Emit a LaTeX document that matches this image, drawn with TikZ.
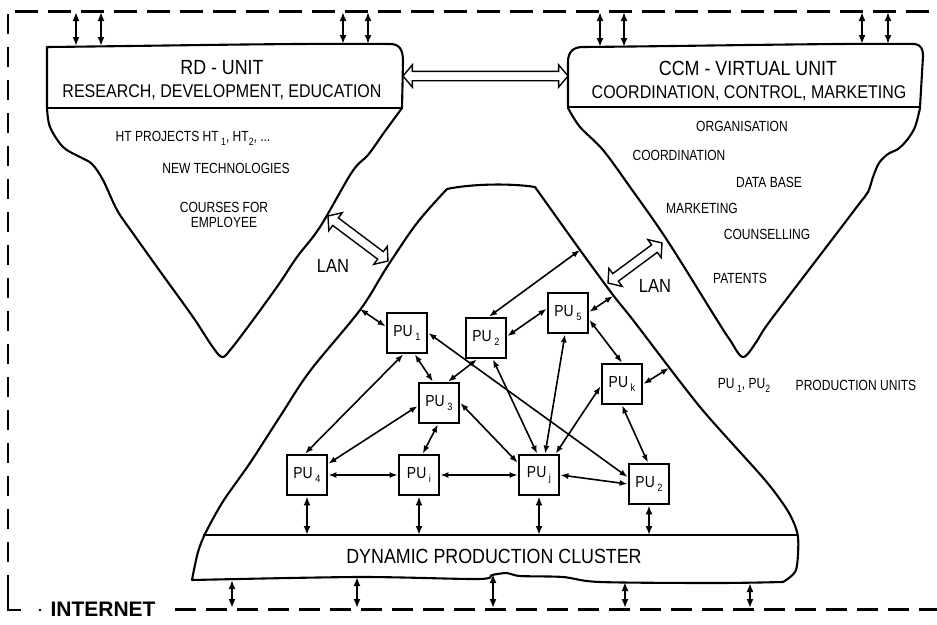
\documentclass[tikz,border=0pt]{standalone}
\usepackage{fontspec}
\setmainfont{Liberation Sans}
\newfontfamily\hfont{Liberation Sans}[FakeStretch=0.87]
\newfontfamily\sfont{Liberation Sans}[FakeStretch=0.82]
\usetikzlibrary{arrows.meta,shapes.arrows,calc}

% lowered small index, as in PU 1 or HT 2
\newcommand\lowsub[1]{\raisebox{-4pt}{\fontsize{10.5}{10.5}\selectfont #1}}

\tikzset{
  frametop/.style={line width=3pt, dash pattern=on 23pt off 10pt},
  frameleft/.style={line width=2.8pt, dash pattern=on 20pt off 13pt},
  framebottom/.style={line width=3pt, dash pattern=on 21pt off 10pt},
  outline/.style={line width=2.1pt, line join=round, line cap=round},
  thinsep/.style={line width=1.3pt},
  pubox/.style={draw, line width=2.8pt, minimum size=40pt, inner sep=0pt,
    font=\hfont\fontsize{16}{16}\selectfont},
  link/.style={line width=1.6pt, {Latex[length=8pt,width=6pt]}-{Latex[length=8pt,width=6pt]}},
  vlink/.style={line width=2pt, {Latex[length=9pt,width=7pt]}-{Latex[length=9pt,width=7pt]}},
  title/.style={font=\hfont\fontsize{20.5}{22}\selectfont, inner sep=0pt},
  subtitle/.style={font=\hfont\fontsize{18.4}{20}\selectfont, inner sep=0pt},
  item/.style={font=\sfont\fontsize{14.7}{16}\selectfont, inner sep=0pt, align=center},
  lan/.style={font=\hfont\fontsize{19}{20}\selectfont, inner sep=0pt},
  hollow/.style={draw, fill=white, line width=1.4pt, double arrow,
    double arrow head extend=6.5pt, double arrow tip angle=100,
    inner xsep=0pt, inner ysep=4pt, text height=0pt, text depth=0pt, minimum width=1pt}
}

% outlined two-headed block arrow between two named points
\newcommand\hollowarrow[2]{%
  \path let \p1=($(#2)-(#1)$), \n1={atan2(\y1,\x1)}, \n2={veclen(\x1,\y1)} in
    node[hollow, rotate=\n1, minimum height={\n2*1pt}] at ($(#1)!0.5!(#2)$) {};
}

\begin{document}
\begin{tikzpicture}[x=1pt,y=-1pt]
\useasboundingbox (0,0) rectangle (937,624);

% ---------- INTERNET frame ----------
\draw[frametop] (15,11) -- (937,11);
\draw[frameleft] (8,14) -- (8,590);
\draw[line width=2.8pt] (8,588) -- (8,610) -- (21,610);
\fill (40,610) circle (1.4pt);
\node[font=\bfseries\fontsize{21}{22}\selectfont, inner sep=0pt] (internet) at (103,609) {INTERNET};
\draw[framebottom] (175,609) -- (937,609);

% ---------- RD unit ----------
\draw[outline] (47,108) -- (47,47) .. controls (150,46) and (300,43) .. (390,44)
  .. controls (400,44) and (403,50) .. (403,62) -- (402,108);
\draw[thinsep] (47,108) -- (402,108);
\draw[outline] plot[smooth, tension=0.55] coordinates {(47,108) (50,127) (63,147) (80,157) (92,164)
  (103,180) (117,210) (132,232) (162,274) (193,317) (212,346) (222,357) (231,349) (253,320)
  (279,284) (297,257) (320,227) (352,172) (368,155) (383,134) (391,123) (402,108)};
\node[title] (rdtitle) at (222,68) {RD - UNIT};
\node[subtitle] (rdsub) at (222,92) {RESEARCH, DEVELOPMENT, EDUCATION};
\node[item] (ht) at (193,138) {HT PROJECTS HT\,\lowsub{1}, HT\lowsub{2}, ...};
\node[item] (newtech) at (226,168) {NEW TECHNOLOGIES};
\node[item] (courses) at (224,215) {COURSES FOR\\[-1pt]EMPLOYEE};
\node[lan] (lanrd) at (333,266) {LAN};

% ---------- CCM unit ----------
\draw[outline] (568,107) -- (568,62) .. controls (568,52) and (573,47) .. (583,47)
  .. controls (700,46) and (850,43) .. (915,44) .. controls (921,45) and (923,49) .. (923,56) -- (920,107);
\draw[thinsep] (568,107) -- (921,107);
\draw[outline] plot[smooth, tension=0.55] coordinates {(568,108) (580,127) (603,150) (630,187)
  (667,240) (717,320) (730,340) (743,357) (757,341) (770,321) (837,233) (859,204) (868,192)
  (873,177) (879,163) (888,154) (898,149) (907,140) (915,127) (920,108)};
\node[title] (ccmtitle) at (748,68) {CCM - VIRTUAL UNIT};
\node[subtitle] (ccmsub) at (749,93) {COORDINATION, CONTROL, MARKETING};
\node[item] (org) at (742,126) {ORGANISATION};
\node[item] (coord) at (679,155) {COORDINATION};
\node[item] (db) at (769,182) {DATA BASE};
\node[item] (mark) at (702,208) {MARKETING};
\node[item] (couns) at (767,234) {COUNSELLING};
\node[item] (pat) at (740,278) {PATENTS};
\node[lan] (lanccm) at (655,286) {LAN};

% ---------- block arrows ----------
\coordinate (rdright) at (403,76);
\coordinate (ccmleft) at (568,76);
\hollowarrow{rdright}{ccmleft}
\coordinate (lan1a) at (328,216);
\coordinate (lan1b) at (388,261);
\hollowarrow{lan1a}{lan1b}
\coordinate (lan2a) at (662,243);
\coordinate (lan2b) at (608,283);
\hollowarrow{lan2a}{lan2b}

% ---------- links to the INTERNET (top) ----------
\foreach \x/\yb [count=\i] in {76/46,101/46,343/44,368/44,600/47,624/47,862/44,888/44}{
  \coordinate (t\i) at (\x,12);
  \coordinate (u\i) at (\x,\yb);
  \draw[vlink] (t\i) -- (u\i);
}

% ---------- dynamic production cluster ----------
\draw[outline] plot[smooth, tension=0.55] coordinates {(192,580) (198,552) (206,532) (222,503)
  (238,480) (252,460) (281,415) (310,371) (360,310) (387,267) (417,223) (447,189)}
  .. controls (470,184) and (510,183) .. (535,187)
  plot[smooth, tension=0.45] coordinates {(535,187) (580,250) (613,295) (633,320) (700,407)
  (765,480) (789,513) (798,537) (796,570) (783,582)}
  plot[smooth, tension=0.5] coordinates {(783,582) (717,583) (600,582) (563,577) (520,576)
  (507,573) (492,575) (478,579) (359,577) (192,580)};
\coordinate (sep) at (0,535);
\draw[thinsep] (203,535) -- (798,535);
\node[title] (dpc) at (494,556) {DYNAMIC PRODUCTION CLUSTER};

% ---------- production units ----------
\node[pubox] (pu1) at (407,333) {PU\,\lowsub{1}};
\node[pubox] (puA) at (486,338) {PU\,\lowsub{2}};
\node[pubox] (pu5) at (568,313) {PU\,\lowsub{5}};
\node[pubox] (puk) at (622,384) {PU\,\lowsub{k}};
\node[pubox] (pu3) at (439,403) {PU\,\lowsub{3}};
\node[pubox] (pu4) at (307,475) {PU\,\lowsub{4}};
\node[pubox] (pui) at (419,475) {PU\,\lowsub{i}};
\node[pubox] (puj) at (539,475) {PU\,\lowsub{j}};
\node[pubox] (puB) at (649,484) {PU\,\lowsub{2}};

% end points on the cluster border
\coordinate (c1) at (360,309);
\coordinate (c2) at (580,250);
\coordinate (c4) at (613,296);
\coordinate (c6) at (669,368);

\draw[link] (pu1.163) -- (c1);
\draw[link] (puA.82) -- (c2);
\draw[link] (puA.5) -- (pu5.169);
\draw[link] (pu5.3) -- (c4);
\draw[link] (pu5.-18) -- (puk.90);
\draw[link] (puk.0) -- (c6);
\draw[link] (pu1.-70) -- (pu3.106);
\draw[link] (puA.-113) -- (pu3.67);
\draw[link] (pu1.-100) -- (pu4.95);
\draw[link] (pu3.-172) -- (pu4.28);
\draw[link] (pu3.-93) -- (pui.80);
\draw[link] (pu3.0) -- (puj.150);
\draw[link] (pu1.0) -- (puB.162);
\draw[link] (puA.-72) -- (puj.95);
\draw[link] (pu5.-98) -- (puj.74);
\draw[link] (puk.-174) -- (puj.52);
\draw[link] (puk.-90) -- (puB.93);
\draw[link] (pu4.east) -- (pui.west);
\draw[link] (pui.east) -- (puj.west);
\draw[link] (puj.east) -- (puB.west);

\foreach \n in {pu4,pui,puj,puB}{
  \draw[vlink, line width=1.8pt] (\n.south) -- (\n.south |- sep);
}

% ---------- links to the INTERNET (bottom) ----------
\foreach \x/\yt [count=\i] in {232/580,357/577,493/574,625/582,750/583}{
  \coordinate (b\i) at (\x,\yt);
  \coordinate (i\i) at (\x,608);
  \draw[vlink] (b\i) -- (i\i);
}

% ---------- legend ----------
\node[item] (legpu) at (744,385) {PU\,\lowsub{1}, PU\lowsub{2}};
\node[item] (legtxt) at (856,385) {PRODUCTION UNITS};

\end{tikzpicture}
\end{document}
